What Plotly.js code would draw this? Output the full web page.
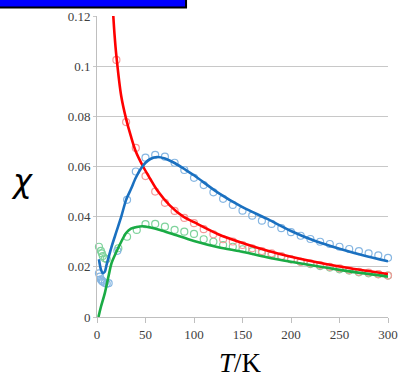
<!DOCTYPE html>
<html><head><meta charset="utf-8">
<script src="https://cdn.plot.ly/plotly-3.0.1.min.js"></script>
<style>html,body{margin:0;padding:0;background:#fff;}#chart{width:399px;height:378px;}</style>
</head><body><div id="chart"></div>
<script>
// Red series (fit line and data points)
const redLineT = [16.8, 18, 20, 25, 30, 35, 40, 47.5, 55, 63, 75, 89, 100, 125, 150, 175, 200, 250, 300];
const redLineChi = [0.12, 0.113, 0.104, 0.088, 0.079, 0.072, 0.066, 0.060, 0.055, 0.050, 0.0445, 0.040, 0.0378, 0.033, 0.0295, 0.0265, 0.0240, 0.0201, 0.0171];
const redPtT = [20, 30, 40, 50, 60, 70, 80, 90, 100, 110, 120, 130, 140, 150, 160, 170, 180, 190, 200, 210, 220, 230, 240, 250, 260, 270, 280, 290, 300];
const redPtChi = [0.1025, 0.0777, 0.0674, 0.0562, 0.0500, 0.0455, 0.0423, 0.0395, 0.0374, 0.0350, 0.0330, 0.0310, 0.0301, 0.0287, 0.0274, 0.0263, 0.0254, 0.0243, 0.0230, 0.0220, 0.0214, 0.0207, 0.0200, 0.0194, 0.0187, 0.0180, 0.0177, 0.0171, 0.0165];

// Blue series
const blueLineT = [2, 4, 6, 8, 10, 15, 20, 25, 30, 35, 40, 45, 50, 55, 62, 70, 80, 90, 100, 125, 150, 175, 200, 225, 250, 275, 300];
const blueLineChi = [0.023, 0.019, 0.0175, 0.018, 0.021, 0.028, 0.034, 0.040, 0.0467, 0.051, 0.0555, 0.059, 0.0615, 0.063, 0.0638, 0.0632, 0.0614, 0.0590, 0.0565, 0.0495, 0.0438, 0.0392, 0.0343, 0.0303, 0.0272, 0.0245, 0.0222];
const bluePtT = [2, 3, 4, 5, 6, 8, 10, 12, 21, 31, 40, 50, 60, 70, 80, 90, 100, 110, 120, 130, 140, 150, 160, 170, 180, 190, 200, 210, 220, 230, 240, 250, 260, 270, 280, 290, 300];
const bluePtChi = [0.0174, 0.0161, 0.0150, 0.0145, 0.0141, 0.0136, 0.0133, 0.0135, 0.0264, 0.0467, 0.0580, 0.0635, 0.0646, 0.0639, 0.0615, 0.0586, 0.0555, 0.0526, 0.0497, 0.0471, 0.0447, 0.0424, 0.0404, 0.0384, 0.0371, 0.0354, 0.0338, 0.0324, 0.0311, 0.0300, 0.0291, 0.0280, 0.0271, 0.0263, 0.0254, 0.0246, 0.0236];

// Green series
const greenLineT = [1.5, 4, 8, 12, 15, 20, 25, 30, 35, 40, 47, 55, 65, 80, 100, 125, 150, 175, 200, 250, 300];
const greenLineChi = [0.0, 0.004, 0.0094, 0.0165, 0.0215, 0.026, 0.030, 0.0335, 0.0352, 0.0358, 0.0362, 0.0357, 0.0347, 0.0328, 0.0303, 0.0278, 0.0260, 0.0238, 0.0220, 0.0188, 0.0161];
const greenPtT = [2, 4, 5, 6, 8, 10, 22, 31, 41, 50, 60, 70, 80, 90, 100, 110, 120, 130, 140, 150, 160, 170, 180, 190, 200, 210, 220, 230, 240, 250, 260, 270, 280, 290, 300];
const greenPtChi = [0.0280, 0.0264, 0.0254, 0.0243, 0.0234, 0.0231, 0.0274, 0.0320, 0.0347, 0.0370, 0.0371, 0.0360, 0.0347, 0.0340, 0.0331, 0.0310, 0.0300, 0.0287, 0.0280, 0.0270, 0.0263, 0.0256, 0.0247, 0.0240, 0.0230, 0.0220, 0.0211, 0.0203, 0.0197, 0.0190, 0.0185, 0.0178, 0.0174, 0.0170, 0.0165];

const yTicks = [0, 0.02, 0.04, 0.06, 0.08, 0.1, 0.12];
const yTickText = ['0', '0.02', '0.04', '0.06', '0.08', '0.1', '0.12'];
const xTicks = [0, 50, 100, 150, 200, 250, 300];

const SERIF = 'Liberation Serif, Times New Roman, DejaVu Serif, serif';
const mk = (c) => ({symbol: 'circle-open', size: 7, color: c, line: {width: 1.2, color: c}});
const traces = [
  {x: greenPtT, y: greenPtChi, mode: 'markers', marker: mk('#7fd39c'), cliponaxis: false},
  {x: redPtT, y: redPtChi, mode: 'markers', marker: mk('#f59a9a'), cliponaxis: false},
  {x: bluePtT, y: bluePtChi, mode: 'markers', marker: mk('#86b6e2'), cliponaxis: false},
  {x: redLineT, y: redLineChi, mode: 'lines', line: {color: '#ff0000', width: 2.6, shape: 'spline', smoothing: 0.8}},
  {x: greenLineT, y: greenLineChi, mode: 'lines', line: {color: '#1aab45', width: 2.6, shape: 'spline', smoothing: 0.8}},
  {x: blueLineT, y: blueLineChi, mode: 'lines', line: {color: '#1a70c0', width: 2.6, shape: 'spline', smoothing: 0.8}}
];

const layout = {
  width: 399, height: 378,
  margin: {l: 97, r: 11, t: 16, b: 61},
  paper_bgcolor: '#ffffff', plot_bgcolor: '#ffffff',
  showlegend: false,
  font: {family: SERIF, size: 13, color: '#404040'},
  xaxis: {
    range: [0, 300], tickvals: xTicks, ticktext: xTicks.map(String),
    showgrid: false, zeroline: false, showline: true, linecolor: '#bfbfbf', linewidth: 1,
    ticks: 'outside', ticklen: 5, tickcolor: '#bfbfbf', tickwidth: 1,
    tickfont: {family: SERIF, size: 13, color: '#404040'}
  },
  yaxis: {
    range: [0, 0.12], tickvals: yTicks, ticktext: yTickText,
    showgrid: true, gridcolor: '#c8c8c8', gridwidth: 1, zeroline: false,
    showline: true, linecolor: '#bfbfbf', linewidth: 1,
    ticks: 'outside', ticklen: 3, tickcolor: '#c8c8c8',
    tickfont: {family: SERIF, size: 13, color: '#404040'}
  },
  shapes: [
    {type: 'rect', xref: 'paper', yref: 'paper', x0: -0.4, x1: 0.306, y0: 1.028, y1: 1.12,
     fillcolor: '#0000ff', line: {color: '#000000', width: 2}}
  ],
  annotations: [
    {xref: 'paper', yref: 'paper', x: (22 - 97) / 291, y: (317 - 181) / 301, text: '<i>χ</i>',
     showarrow: false, font: {family: 'DejaVu Sans, sans-serif', size: 32, color: '#000000'}, xanchor: 'center', yanchor: 'middle'},
    {xref: 'paper', yref: 'paper', x: (240 - 97) / 291, y: (317 - 363) / 301, text: '<i>T</i>/K',
     showarrow: false, font: {family: SERIF, size: 27, color: '#000000'}, xanchor: 'center', yanchor: 'middle'}
  ]
};

Plotly.newPlot('chart', traces, layout, {displayModeBar: false, staticPlot: true});
</script></body></html>
